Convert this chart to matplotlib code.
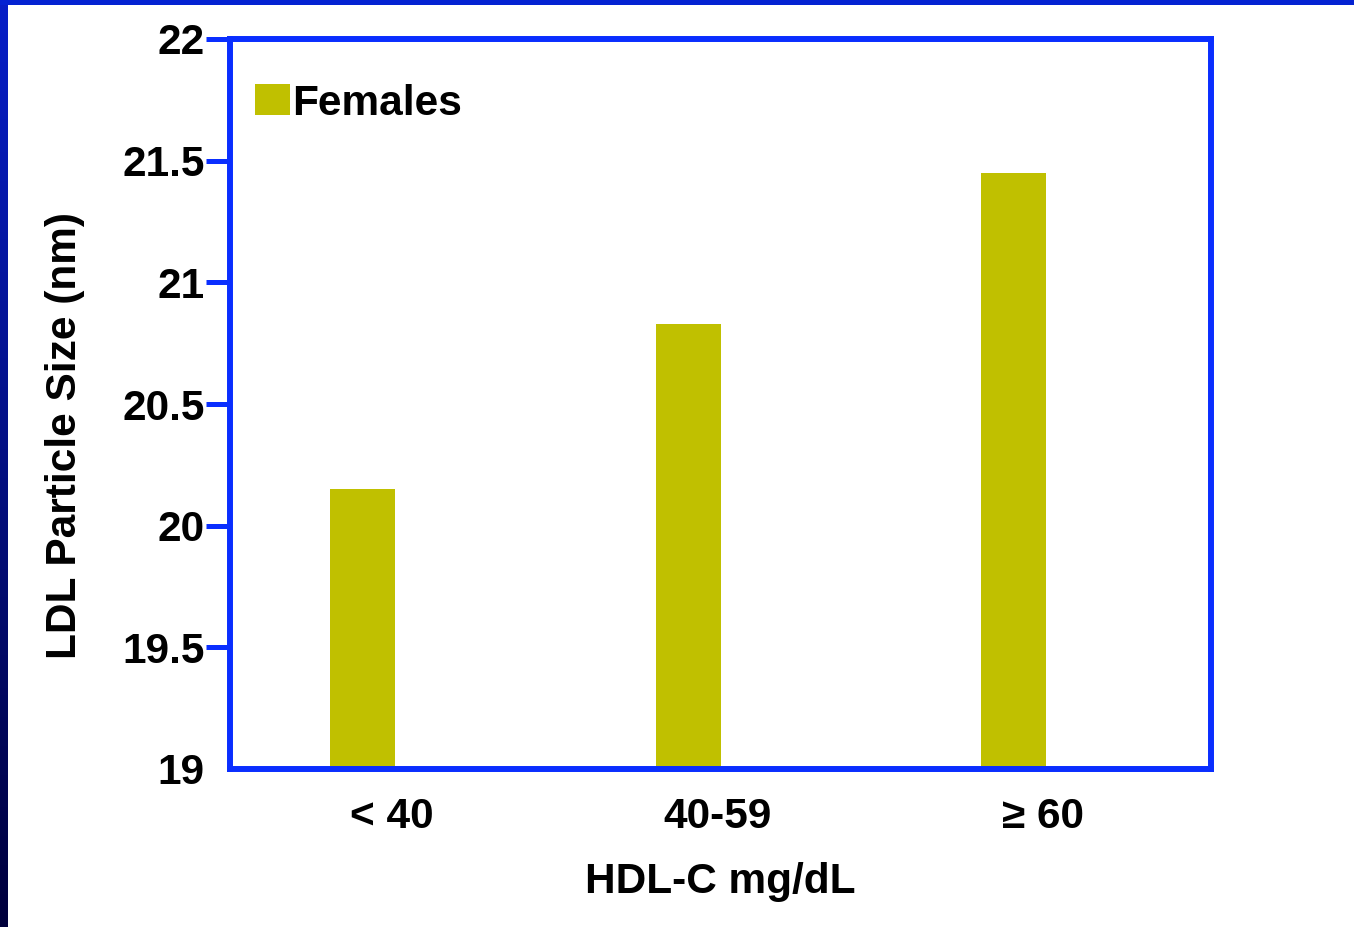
import numpy as np
from matplotlib import pyplot as plt
from matplotlib.colors import LinearSegmentedColormap

plt.rcParams['font.family'] = ['Liberation Sans', 'DejaVu Sans']
plt.rcParams['font.weight'] = 'bold'

categories = ['< 40', '40-59', '≥ 60']
females = [20.15, 20.83, 21.45]
yticks = [19, 19.5, 20, 20.5, 21, 21.5, 22]
ytick_labels = ['19', '19.5', '20', '20.5', '21', '21.5', '22']

blue = '#0A2EFF'
olive = '#C0C000'
fs = 30.5

fig = plt.figure(figsize=(13.54, 9.27), dpi=100)
fig.patch.set_facecolor('white')

# slide-style border strips (left gradient, top band)
left_strip = fig.add_axes([0, 0, 8 / 1354, 1])
grad = np.linspace(0, 1, 256).reshape(-1, 1)
cmap = LinearSegmentedColormap.from_list('strip', ['#081FC8', '#00003C'])
left_strip.imshow(grad, aspect='auto', cmap=cmap)
left_strip.axis('off')
top_strip = fig.add_axes([0, 1 - 5 / 927, 1, 5 / 927])
top_strip.set_facecolor('#0422D2')
top_strip.set_xticks([])
top_strip.set_yticks([])
for s in top_strip.spines.values():
    s.set_visible(False)

ax = fig.add_axes([230 / 1354, 1 - 769 / 927, 981 / 1354, 730 / 927])
x = np.arange(len(categories))
ax.bar(x - 0.09, [v - 19 for v in females], bottom=19, width=0.2,
       color=olive, label='Females', zorder=1)

ax.set_ylim(19, 22)
ax.set_xlim(-0.498, 2.516)
ax.set_yticks(yticks)
ax.set_yticklabels(ytick_labels)
ax.set_xticks(x)
ax.set_xticklabels(categories)

for s in ax.spines.values():
    s.set_color(blue)
    s.set_linewidth(4.3)
    s.set_zorder(3)

ax.tick_params(axis='y', direction='out', length=17, width=3.6, color=blue,
               labelsize=fs, pad=1)
ax.tick_params(axis='x', length=0, labelsize=fs, pad=20)
ax.yaxis.get_major_ticks()[0].tick1line.set_visible(False)
for lab in ax.get_xticklabels() + ax.get_yticklabels():
    lab.set_fontweight('bold')

ax.set_xlabel('HDL-C mg/dL', fontsize=fs, fontweight='bold', labelpad=18)
ax.set_ylabel('LDL Particle Size (nm)', fontsize=fs, fontweight='bold')
ax.yaxis.set_label_coords(-0.148, 0.4575)

leg = ax.legend(loc='upper left', bbox_to_anchor=(0.008, 0.962), frameon=False,
                fontsize=fs, handlelength=0.83, handleheight=0.75,
                handletextpad=0.05, borderaxespad=0)
for t in leg.get_texts():
    t.set_fontweight('bold')

fig.savefig('out.png', dpi=100)
